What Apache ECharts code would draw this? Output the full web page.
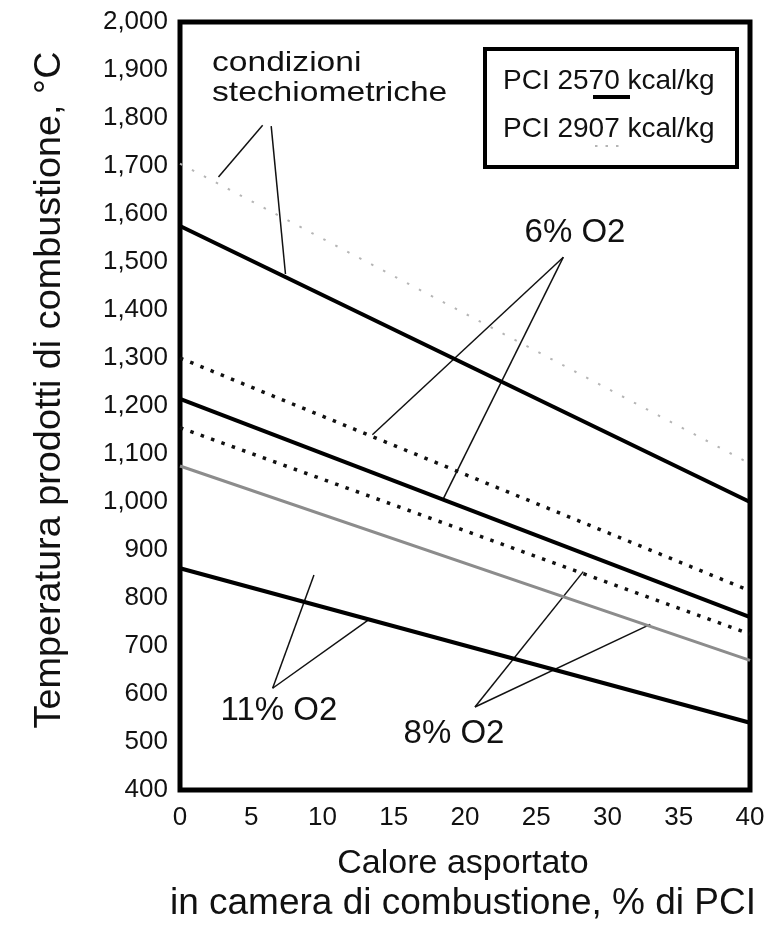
<!DOCTYPE html>
<html>
<head>
<meta charset="utf-8">
<script src="https://cdn.jsdelivr.net/npm/echarts@6/dist/echarts.min.js"></script>
<style>
  html, body { margin: 0; padding: 0; background: #fff; }
  #chart { width: 772px; height: 925px; }
</style>
</head>
<body>
<div id="chart"></div>
<script>
// x: heat removed in combustion chamber, % of PCI
const xPct = [0, 40];
// temperature of combustion products, °C
const stechio2570 = [1575, 1000];
const stechio2907 = [1705, 1080];
const o6_2907 = [1300, 815];
const o6_2570 = [1215, 760];
const o8_2907 = [1155, 725];
const o8_2570 = [1075, 670];
const o11_2570 = [862, 540];

// leader lines from the labels to the curves, [x %, °C]
const pointers = [
    [[5.8, 1785], [2.7, 1677]],
    [[6.4, 1783], [7.4, 1475]],
    [[26.9, 1510], [13.5, 1140]],
    [[26.9, 1510], [18.5, 1008]],
    [[20.7, 573], [28.3, 855]],
    [[20.7, 573], [33.0, 745]],
    [[6.5, 612], [9.4, 848]],
    [[6.5, 612], [13.3, 756]]
];

const xTicks = [0, 5, 10, 15, 20, 25, 30, 35, 40];

const chart = echarts.init(document.getElementById("chart"));

function pts(ys) {
    return xPct.map((x, i) => [x, ys[i]]);
}

const solid = { color: "#000", width: 4, type: "solid" };
const dotted = { color: "#111", width: 3.5, type: [3.5, 7.5], cap: "butt" };
const greyDots = { color: "#b5b5b5", width: 2, type: [2.5, 11] };
const greyLine = { color: "#8c8c8c", width: 3, type: "solid" };

function line(name, ys, style) {
    return {
        name: name,
        type: "line",
        data: pts(ys),
        symbol: "none",
        silent: true,
        lineStyle: style
    };
}

const textFont = "Liberation Sans, Arial, sans-serif";

chart.setOption({
    animation: false,
    backgroundColor: "#fff",
    grid: {
        left: 180,
        top: 22,
        width: 570,
        height: 768,
        show: true,
        borderColor: "#000",
        borderWidth: 5
    },
    xAxis: {
        type: "value",
        min: 0,
        max: 40,
        interval: 5,
        axisLine: { show: false },
        axisTick: { show: false },
        splitLine: { show: false },
        axisLabel: {
            fontSize: 26,
            color: "#111",
            margin: 15,
            fontFamily: textFont,
            formatter: v => (xTicks.includes(v) ? String(v) : "")
        }
    },
    yAxis: {
        type: "value",
        min: 400,
        max: 2000,
        interval: 100,
        axisLine: { show: false },
        axisTick: { show: false },
        splitLine: { show: false },
        axisLabel: {
            fontSize: 26,
            color: "#111",
            margin: 12,
            fontFamily: textFont,
            formatter: v => v.toLocaleString("en-US")
        }
    },
    series: [
        line("stechio 2907", stechio2907, greyDots),
        line("stechio 2570", stechio2570, solid),
        line("6% 2907", o6_2907, dotted),
        line("6% 2570", o6_2570, solid),
        line("8% 2907", o8_2907, dotted),
        line("8% 2570", o8_2570, greyLine),
        line("11% 2570", o11_2570, solid),
        {
            type: "lines",
            coordinateSystem: "cartesian2d",
            silent: true,
            data: pointers.map(p => ({ coords: p })),
            lineStyle: { color: "#111", width: 1.5, opacity: 1 }
        }
    ],
    graphic: [
        // y axis title
        {
            type: "text",
            x: 50,
            y: 390,
            rotation: Math.PI / 2,
            scaleX: 1.05,
            style: {
                text: "Temperatura prodotti di combustione, °C",
                fontSize: 36,
                fontFamily: textFont,
                fill: "#111",
                align: "center",
                verticalAlign: "middle"
            }
        },
        // x axis title
        {
            type: "text",
            x: 463,
            y: 864,
            style: {
                text: "Calore asportato",
                fontSize: 34,
                fontFamily: textFont,
                fill: "#111",
                align: "center",
                verticalAlign: "middle"
            }
        },
        {
            type: "text",
            x: 463,
            y: 904,
            style: {
                text: "in camera di combustione, % di PCI",
                fontSize: 37,
                fontFamily: textFont,
                fill: "#111",
                align: "center",
                verticalAlign: "middle"
            }
        },
        // annotations
        {
            type: "text",
            x: 212,
            y: 78,
            scaleX: 1.2,
            style: {
                text: "condizioni\nstechiometriche",
                fontSize: 28,
                lineHeight: 30,
                fontFamily: textFont,
                fill: "#111",
                align: "left",
                verticalAlign: "middle"
            }
        },
        {
            type: "text",
            x: 575,
            y: 233,
            style: {
                text: "6% O2",
                fontSize: 33,
                fontFamily: textFont,
                fill: "#111",
                align: "center",
                verticalAlign: "middle"
            }
        },
        {
            type: "text",
            x: 279,
            y: 711,
            style: {
                text: "11% O2",
                fontSize: 33,
                fontFamily: textFont,
                fill: "#111",
                align: "center",
                verticalAlign: "middle"
            }
        },
        {
            type: "text",
            x: 454,
            y: 734,
            style: {
                text: "8% O2",
                fontSize: 33,
                fontFamily: textFont,
                fill: "#111",
                align: "center",
                verticalAlign: "middle"
            }
        },
        // legend box
        {
            type: "rect",
            shape: { x: 485, y: 49, width: 252, height: 118 },
            style: { fill: "#fff", stroke: "#000", lineWidth: 4 }
        },
        {
            type: "text",
            x: 503,
            y: 81,
            style: {
                text: "PCI 2570 kcal/kg",
                fontSize: 28,
                fontFamily: textFont,
                fill: "#111",
                verticalAlign: "middle"
            }
        },
        {
            type: "line",
            shape: { x1: 593, y1: 97, x2: 630, y2: 97 },
            style: { stroke: "#000", lineWidth: 4 }
        },
        {
            type: "text",
            x: 503,
            y: 129,
            style: {
                text: "PCI 2907 kcal/kg",
                fontSize: 28,
                fontFamily: textFont,
                fill: "#111",
                verticalAlign: "middle"
            }
        },
        {
            type: "line",
            shape: { x1: 595, y1: 146, x2: 620, y2: 146 },
            style: { stroke: "#b5b5b5", lineWidth: 2, lineDash: [2.5, 8] }
        }
    ]
});
</script>
</body>
</html>
